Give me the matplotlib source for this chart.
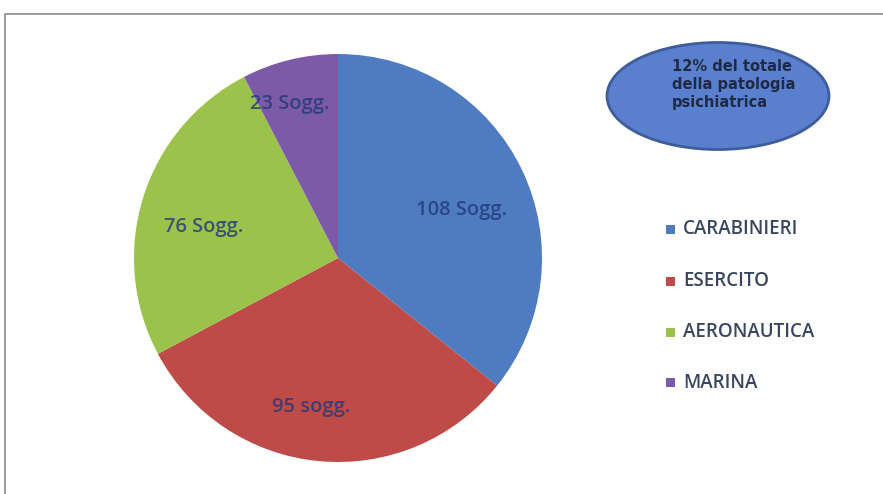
import matplotlib
matplotlib.use("Agg")
import matplotlib.pyplot as plt
from matplotlib.patches import Ellipse, Rectangle

categories = ["CARABINIERI", "ESERCITO", "AERONAUTICA", "MARINA"]
values = [108, 95, 76, 23]
value_labels = ["108 Sogg.", "95 sogg.", "76 Sogg.", "23 Sogg."]
colors = ["#4F7BC0", "#BE4B48", "#9BC24A", "#7B5BA8"]
note_text = "12% del totale\ndella patologia\npsichiatrica"

W, H = 883, 494
fig = plt.figure(figsize=(W / 100, H / 100), dpi=100)
ax = fig.add_axes([0, 0, 1, 1])

cx, cy, r = 338, H - 258, 204
wedges, _ = ax.pie(values, colors=colors, startangle=90, counterclock=False,
                   center=(cx, cy), radius=r, wedgeprops=dict(linewidth=0))
ax.set_xlim(0, W)
ax.set_ylim(0, H)
ax.set_aspect("equal")
ax.axis("off")

# value labels (pixel positions from top-left)
label_pos = [(461, 210), (311, 407), (204, 227), (290, 104)]
for txt, (px, py) in zip(value_labels, label_pos):
    ax.text(px, H - py, txt, ha="center", va="center", fontsize=14.5,
            family="Open Sans", fontweight="semibold", color="#22397A",
            alpha=0.8)

# border
ax.plot([4.5, 4.5, W + 5], [0, H - 13.5, H - 13.5], color="#8a8a8a", lw=1.2,
        solid_capstyle="butt", clip_on=False)

# ellipse note
ell = Ellipse((718, H - 96), 222, 107, facecolor="#5A7FCC",
              edgecolor="#3D5C9C", lw=2)
ax.add_patch(ell)
ax.text(672, H - 84, note_text, ha="left", va="center", fontsize=10.5,
        family="DejaVu Sans", fontweight="bold", color="#1E2A45",
        linespacing=1.25)

# legend
leg_y = [229, 281, 332, 383]
for name, col, ly in zip(categories, colors, leg_y):
    ax.add_patch(Rectangle((666, H - ly - 4.5), 9, 9, facecolor=col, lw=0))
    ax.text(683, H - ly, name, ha="left", va="center", fontsize=13.5,
            family="Open Sans", fontweight="semibold", color="#3A4660")

fig.savefig("out.png", dpi=100)
